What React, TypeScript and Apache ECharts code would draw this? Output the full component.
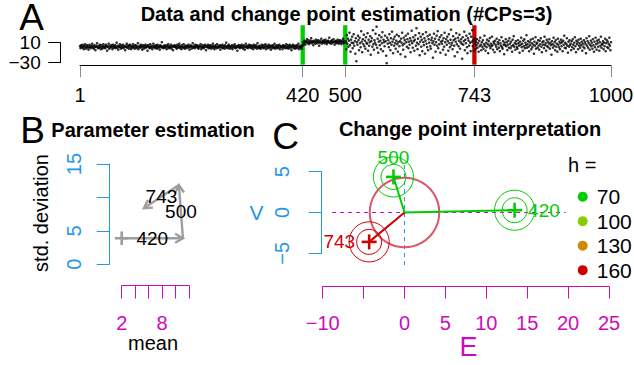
import React, { useEffect, useRef } from 'react';
import * as echarts from 'echarts';

const FONT = "'Liberation Sans', Arial, Helvetica, sans-serif";

// Observations between successive change points (sample index is implied by position)
const seg1 = [
  3,-1,5,2,0,6,1,-3,4,2,7,-2,1,3,5,0,-4,2,6,1,
  -1,4,2,8,0,3,-2,5,1,-5,2,4,9,1,-1,3,0,6,2,-3,
  5,1,-2,3,7,0,2,-1,4,6,1,-6,3,2,8,-2,0,4,1,5,
  2,-3,6,0,3,1,5,-1,2,10,0,4,-4,1,3,7,2,-2,5,0,
  1,6,-1,3,2,-5,4,1,8,0,2,5,-2,3,6,1,-3,4,0,2,
  7,0,3,-2,5,1,4,-1,2,9,-3,1,4,2,0,6,3,-4,1,5,
  -2,3,1,6,0,4,2,-6,5,3,1,-1,7,2,0,4,-3,2,8,1,
  4,-1,2,5,1,-2,6,3,0,2,-4,5,1,3,11,0,2,-1,4,3,
  0,5,2,-3,4,1,7,-1,3,0,2,6,-2,1,4,-5,3,2,5,1,
  3,1,-2,6,0,4,2,8,-1,3,1,-3,5,2,0,7,1,-2,4,2,
  -1,4,3,0,6,2,-4,1,5,3,-2,2,9,0,4,1,-1,6,2,3,
  5,0,2,-2,4,1,3,7,-3,2,0,5,1,-1,3,6,2,-5,4,1,
  2,6,-1,3,0,5,2,-2,4,1,8,0,3,-3,2,5,1,-1,7,2,
  0,3,1,5,-4,2,4,0,6,-1,3,2,-2,5,1,10,0,3,-1,4,
  6,1,-2,3,2,0,5,-3,1,4,2,7,-1,3,0,2,-6,4,1,5,
  1,-1,4,2,6,0,3,-2,5,1,-4,2,8,3,0,4,-1,2,6,1,
  3,5,-1,0,4,2,-3,6,1,3,0,5,2,-2,9,1,3,-1,4,0,
  -2,2,6,1,3,-1,5,0,2,7,-3,4,1,3,-1,6,2,0,4,-4,
  4,1,-1,5,2,0,8,-2,3,1,5,-1,2,4,0,6,-3,3,1,2,
  2,-3,5,1,4,0,3,-1,7,2,0,5,-2,1,3,6,-1,2,-5,4,
  1,6,0,3,-2,4,2,-1,5,0,3,8,-3,2,1,4,0,-2,3,5,
];
const seg2 = [
  11,8,14,10,6,13,12,17,9,11,15,7,12,10,14,19,9,13,11,5,
  14,10,12,8,16,11,13,9,15,12,4,10,14,11,18,8,12,13,10,15,
  9,12,16,11,7,13,10,14,12,20,9,11,13,8,15,10,12,17,11,6,
  13,10,14,9,12,16,11,8,13,15,10,12,7,14,11,18,9,13,10,12,
];
const seg3 = [
  12,-3,25,8,18,2,14,30,5,-8,16,10,22,-1,9,27,4,13,-12,19,
  -27,11,6,24,15,-5,20,9,1,33,12,-9,17,7,26,3,14,-2,21,10,
  8,29,-6,16,4,11,23,-14,13,19,2,35,7,-4,15,10,28,6,42,0,
  18,-10,12,25,5,14,-3,21,9,31,-7,16,11,3,24,13,-16,-31,20,8,
  15,1,27,10,-5,19,6,32,12,-11,17,4,22,9,-2,14,26,7,-8,11,
  23,3,13,-13,18,10,30,5,-4,20,8,15,-18,24,11,2,17,28,-1,12,
  6,19,-9,14,34,9,0,21,13,-6,16,25,4,39,10,-3,18,7,29,-15,
  12,22,2,16,-7,27,11,5,19,-12,14,31,8,1,23,-5,17,10,26,3,
  -2,15,20,9,-20,13,28,6,18,-8,11,24,4,33,-1,16,7,21,-10,12,
  25,8,14,-4,19,2,30,11,-14,17,6,22,13,-6,27,9,1,16,36,5,
  10,-3,23,15,4,-17,18,12,29,7,-9,20,3,14,26,-2,11,17,8,-22,
  21,6,13,32,-5,16,9,24,1,-11,19,14,4,28,10,-7,22,12,35,3,
  15,-6,18,
];
const seg4 = [
  8,-3,12,5,17,0,9,-8,14,3,20,6,-5,11,2,15,-2,7,24,4,
  -6,10,1,16,7,-11,13,4,19,-1,8,3,22,5,-4,12,9,-9,14,6,
  2,18,-3,11,7,0,15,-7,9,4,21,1,-2,13,6,-13,10,5,17,3,
  11,-5,6,14,0,19,8,-1,12,3,-8,16,5,23,2,9,-4,13,7,1,
  -2,15,9,4,-10,12,6,20,1,8,-6,14,3,17,-1,10,5,25,0,7,
  13,2,-7,11,5,16,-3,9,1,18,6,-12,12,4,21,-2,8,10,0,15,
  4,-4,14,7,19,2,-9,11,6,13,-1,22,5,9,-6,16,3,12,1,8,
  17,-2,10,5,-14,13,7,0,20,4,11,-5,15,2,8,-8,18,6,1,12,
  -3,9,16,3,11,-7,14,6,24,0,10,-1,7,19,4,-10,12,2,15,5,
  8,-5,13,1,17,6,-2,10,21,3,-9,14,7,11,-3,16,4,9,0,18,
  5,12,-6,8,2,15,-1,11,7,-11,19,4,13,0,9,23,-4,6,14,3,
  10,-2,17,5,-8,12,1,20,7,-4,14,9,2,16,-6,11,4,22,0,8,
  6,13,-3,10,3,18,-7,9,15,1,12,-1,7,20,4,-5,11,
];

// Detected change points and axis ticks of panel A
const changePoints = [420, 500, 743];
const nObs = 1000;
const xTicksA = [1, 420, 500, 743, 1000];
const yTicksA = [-30, 10];

// Panel B: estimated mean / standard deviation of each segment
const segMean = [2.0, 11.1, 10.5, 5.3];
const segSd = [3.9, 3.9, 11.85, 8.4];
const xTicksB = [2, 4, 6, 8, 10, 12];
const xLabelsB = [2, 8];
const yTicksB = [0, 5, 10, 15];
const yLabelsB = [0, 5, 15];

// Panel C: change point interpretation in the (E, V) plane
const cpE = [13.46, -1.35, -4.32];
const cpV = [0.28, 4.36, -3.6];
const cpH = ['70', '70', '160'];
const hLevels = ['70', '100', '130', '160'];
const refRadius = 4.25;
const ringOuter = 2.45;
const ringInner = 1.53;
const xTicksC = [-10, -5, 0, 5, 10, 15, 20, 25];
const xLabelsC = [-10, 0, 5, 10, 15, 20, 25];
const yTicksC = [-5, 0, 5];
const plotE = [-8.85, 19.7];
const plotV = [-6.45, 5.8];

// Styling
const hColors = ['#00CD00', '#89CD00', '#CD8900', '#CD0000'];
const cpLabelPos = ['right', 'top', 'left'];
const BLUE = '#2297E6';
const MAGENTA = '#CD0BBC';
const GRAY = '#9E9E9E';
const PINK = '#DF536B';

const fmt = (v: number) => (v < 0 ? '\u2212' + Math.abs(v) : String(v));
const colorOfH = (h: string) => hColors[hLevels.indexOf(h)];

const allY = [...seg1, ...seg2, ...seg3, ...seg4];
const yLo = Math.min(...allY);
const yHi = Math.max(...allY);
const yPad = 0.04 * (yHi - yLo);
const plotYA = [yLo - yPad, yHi + yPad];

const segments = [seg1, seg2, seg3, seg4];
const segStart = [1, ...changePoints.map((c) => c + 1)];
const pointsA = segments.flatMap((s, k) => s.map((v, i) => [segStart[k] + i, v]));

function crossShapes(x: number, y: number, s: number, color: string, lw: number) {
  return [
    { type: 'line', shape: { x1: x - s, y1: y, x2: x + s, y2: y }, style: { stroke: color, lineWidth: lw } },
    { type: 'line', shape: { x1: x, y1: y - s, x2: x, y2: y + s }, style: { stroke: color, lineWidth: lw } },
  ];
}

function txt(text: string, x: number, y: number, size: number, color: string, extra: any = {}) {
  return {
    type: 'text',
    x,
    y,
    rotation: extra.rotation || 0,
    silent: true,
    style: {
      text,
      fill: color,
      fontSize: size,
      fontFamily: FONT,
      fontWeight: extra.bold ? 'bold' : 'normal',
      align: extra.align || 'center',
      verticalAlign: 'middle',
      textAlign: extra.align || 'center',
      textVerticalAlign: 'middle',
    },
  };
}

function valueAxis(grid: number, min: number, max: number, color: string, ticks: number[], labels: number[], o: any) {
  return {
    type: 'value',
    gridIndex: grid,
    min,
    max,
    position: o.position,
    offset: o.offset,
    splitLine: { show: false },
    axisLine: { show: true, onZero: false, lineStyle: { color, width: 1 } },
    axisTick: { show: true, inside: false, length: o.tick, customValues: ticks, lineStyle: { color: o.tickColor || color, width: 1 } },
    axisLabel: {
      show: true,
      customValues: labels,
      formatter: fmt,
      margin: o.margin,
      rotate: o.rotate || 0,
      color: o.labelColor || color,
      fontSize: o.fontSize || 20,
      fontFamily: FONT,
      hideOverlap: false,
      showMinLabel: true,
      showMaxLabel: true,
    },
  };
}

export default function App() {
  const ref = useRef<HTMLDivElement>(null);

  useEffect(() => {
    if (!ref.current) return;
    const chart = echarts.init(ref.current, null, { renderer: 'svg' });

    const classSeries = hLevels.map((h, k) => ({
      type: 'custom',
      name: h,
      coordinateSystem: 'cartesian2d',
      xAxisIndex: 2,
      yAxisIndex: 2,
      itemStyle: { color: hColors[k] },
      encode: { x: 0, y: 1 },
      silent: true,
      data: cpE.map((e, i) => [e, cpV[i], i]).filter((d) => cpH[d[2]] === h),
      renderItem: (params: any, api: any) => {
        const i = api.value(2);
        const color = hColors[k];
        const p = api.coord([api.value(0), api.value(1)]);
        const o = api.coord([0, 0]);
        const rO = api.size([ringOuter, 0])[0];
        const rI = api.size([ringInner, 0])[0];
        const pos = cpLabelPos[i];
        let lx = p[0];
        let ly = p[1];
        let align = 'center';
        if (pos === 'top') ly = p[1] - 19;
        if (pos === 'right') { lx = p[0] + 13.5; align = 'left'; }
        if (pos === 'left') { lx = p[0] - 14; align = 'right'; }
        return {
          type: 'group',
          children: [
            { type: 'line', shape: { x1: o[0], y1: o[1], x2: p[0], y2: p[1] }, style: { stroke: color, lineWidth: 2 } },
            { type: 'circle', shape: { cx: p[0], cy: p[1], r: rO }, style: { fill: 'none', stroke: color, lineWidth: 1 } },
            { type: 'circle', shape: { cx: p[0], cy: p[1], r: rI }, style: { fill: 'none', stroke: color, lineWidth: 1 } },
            ...crossShapes(p[0], p[1], 7.5, color, 2.6),
            txt(String(changePoints[i]), lx, ly, 19, color, { align }),
          ],
        };
      },
    }));

    const option: any = {
      animation: false,
      textStyle: { fontFamily: FONT },
      grid: [
        { left: 80, top: 42.7, width: 531, height: 20, containLabel: false, outerBoundsMode: 'none' },
        { left: 121.7, top: 164, width: 67.3, height: 100.3, containLabel: false, outerBoundsMode: 'none' },
        { left: 322.7, top: 171.7, width: 286.3, height: 81.6, containLabel: false, outerBoundsMode: 'none' },
      ],
      xAxis: [
        valueAxis(0, 1, nObs, '#000', xTicksA, xTicksA, { position: 'bottom', offset: 3, tick: 11.5, tickColor: '#8c8c8c', margin: 19 }),
        valueAxis(1, 2, 12, MAGENTA, xTicksB, xLabelsB, { position: 'bottom', offset: 21.2, tick: 13, margin: 27 }),
        valueAxis(2, -10, 25, MAGENTA, xTicksC, xLabelsC, { position: 'bottom', offset: 33.2, tick: 12, margin: 26 }),
      ],
      yAxis: [
        valueAxis(0, -30, 10, '#000', yTicksA, yTicksA, { position: 'left', offset: 19.3, tick: 12.5, margin: 20, fontSize: 19 }),
        valueAxis(1, 0, 15, BLUE, yTicksB, yLabelsB, { position: 'left', offset: 12.4, tick: 12.6, margin: 25, rotate: 90 }),
        valueAxis(2, -5, 5, BLUE, yTicksC, yTicksC, { position: 'left', offset: 1, tick: 13, margin: 30, rotate: 90 }),
      ],
      legend: {
        orient: 'vertical',
        left: 577.7,
        top: 186.2,
        padding: 0,
        itemWidth: 18,
        itemHeight: 10,
        itemGap: 3.5,
        selectedMode: false,
        data: hLevels.map((h) => ({ name: h, icon: 'circle' })),
        itemStyle: { borderWidth: 0 },
        textStyle: { fontSize: 21, color: '#000', fontFamily: FONT, lineHeight: 21 },
      },
      graphic: [
        txt('A', 31.7, 17, 37, '#000'),
        txt('B', 32.5, 130, 37, '#000'),
        txt('C', 285.5, 136, 37, '#000'),
        txt('Data and change point estimation (#CPs=3)', 346.5, 14, 20, '#000', { bold: true }),
        txt('Parameter estimation', 153, 130, 20, '#000', { bold: true }),
        txt('Change point interpretation', 470, 128.8, 20, '#000', { bold: true }),
        txt('std. deviation', 41.1, 213, 20, '#000', { rotation: Math.PI / 2 }),
        txt('mean', 153, 342.8, 20, '#000'),
        txt('E', 468.5, 347, 27, MAGENTA),
        txt('V', 256.5, 212.5, 21, BLUE),
        txt('h =', 568, 164.5, 20, '#000', { align: 'left' }),
      ],
      series: [
        {
          type: 'scatter',
          xAxisIndex: 0,
          yAxisIndex: 0,
          data: pointsA,
          symbol: 'circle',
          symbolSize: 2.6,
          itemStyle: { color: '#000' },
          clip: false,
          silent: true,
        },
        {
          type: 'custom',
          coordinateSystem: 'cartesian2d',
          xAxisIndex: 0,
          yAxisIndex: 0,
          encode: { x: 0, y: [1, 2] },
          clip: false,
          silent: true,
          data: changePoints.map((cp, i) => [cp, plotYA[0], plotYA[1], i]),
          renderItem: (params: any, api: any) => {
            const i = api.value(3);
            const a = api.coord([api.value(0), api.value(1)]);
            const b = api.coord([api.value(0), api.value(2)]);
            return {
              type: 'line',
              shape: { x1: a[0], y1: a[1], x2: b[0], y2: b[1] },
              style: { stroke: colorOfH(cpH[i]), lineWidth: 4.3 },
            };
          },
        },
        {
          type: 'custom',
          coordinateSystem: 'cartesian2d',
          xAxisIndex: 1,
          yAxisIndex: 1,
          encode: { x: 0, y: 1 },
          silent: true,
          data: [[segMean[0], segSd[0]]],
          renderItem: (params: any, api: any) => {
            const p = api.coord([api.value(0), api.value(1)]);
            return { type: 'group', children: crossShapes(p[0], p[1], 6.8, GRAY, 2.6) };
          },
        },
        {
          type: 'custom',
          coordinateSystem: 'cartesian2d',
          xAxisIndex: 1,
          yAxisIndex: 1,
          encode: { x: [0, 2], y: [1, 3] },
          silent: true,
          data: changePoints.map((cp, i) => [segMean[i], segSd[i], segMean[i + 1], segSd[i + 1], cp]),
          renderItem: (params: any, api: any) => {
            const p0 = api.coord([api.value(0), api.value(1)]);
            const p1 = api.coord([api.value(2), api.value(3)]);
            const ang = Math.atan2(p1[1] - p0[1], p1[0] - p0[0]);
            const hl = 9;
            const ha = Math.PI / 6;
            const h1 = [p1[0] - hl * Math.cos(ang - ha), p1[1] - hl * Math.sin(ang - ha)];
            const h2 = [p1[0] - hl * Math.cos(ang + ha), p1[1] - hl * Math.sin(ang + ha)];
            return {
              type: 'group',
              children: [
                { type: 'line', shape: { x1: p0[0], y1: p0[1], x2: p1[0], y2: p1[1] }, style: { stroke: GRAY, lineWidth: 2.4 } },
                { type: 'polyline', shape: { points: [h1, p1, h2] }, style: { stroke: GRAY, fill: 'none', lineWidth: 2.4 } },
                txt(String(api.value(4)), (p0[0] + p1[0]) / 2, (p0[1] + p1[1]) / 2, 19, '#000'),
              ],
            };
          },
        },
        {
          type: 'custom',
          coordinateSystem: 'cartesian2d',
          xAxisIndex: 2,
          yAxisIndex: 2,
          encode: { x: [0, 2], y: [1, 3] },
          silent: true,
          data: [
            [plotE[0], 0, plotE[1], 0, 0],
            [0, plotV[0], 0, plotV[1], 1],
          ],
          renderItem: (params: any, api: any) => {
            const a = api.coord([api.value(0), api.value(1)]);
            const b = api.coord([api.value(2), api.value(3)]);
            return {
              type: 'line',
              shape: { x1: a[0], y1: a[1], x2: b[0], y2: b[1] },
              style: { stroke: api.value(4) === 0 ? MAGENTA : BLUE, lineWidth: 1, lineDash: [4, 4] },
            };
          },
        },
        {
          type: 'custom',
          coordinateSystem: 'cartesian2d',
          xAxisIndex: 2,
          yAxisIndex: 2,
          encode: { x: 0, y: 1 },
          silent: true,
          data: [[0, 0, refRadius]],
          renderItem: (params: any, api: any) => {
            const c = api.coord([api.value(0), api.value(1)]);
            const r = api.size([api.value(2), 0])[0];
            return { type: 'circle', shape: { cx: c[0], cy: c[1], r }, style: { fill: 'none', stroke: PINK, lineWidth: 2 } };
          },
        },
        ...classSeries,
      ],
    };

    chart.setOption(option);
    return () => chart.dispose();
  }, []);

  return (
    <div
      ref={ref}
      style={{ position: 'fixed', left: 0, top: 0, width: 634, height: 365, background: '#fff' }}
    />
  );
}
